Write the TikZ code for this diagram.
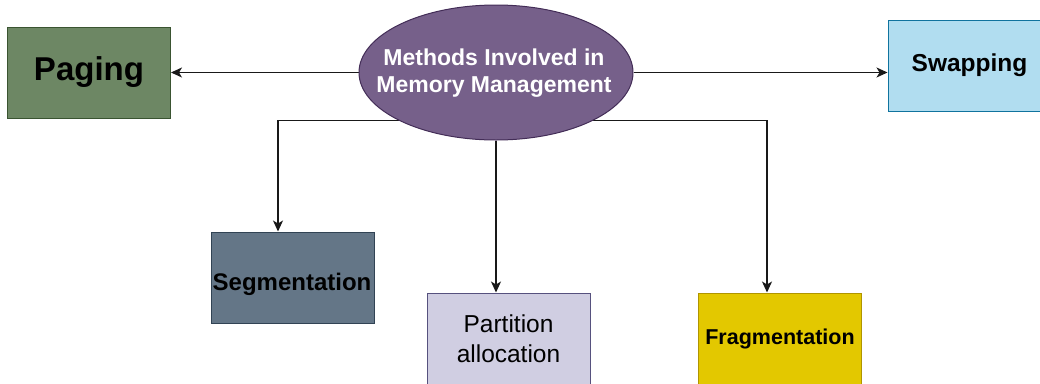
\documentclass[tikz,border=0pt]{standalone}
\usepackage{fontspec}
\setmainfont{Liberation Sans}
\usetikzlibrary{shapes.geometric,arrows.meta,backgrounds}
\definecolor{pagfill}{HTML}{6D8764}\definecolor{pagline}{HTML}{3A5431}
\definecolor{ellfill}{HTML}{76608A}\definecolor{ellline}{HTML}{432D57}
\definecolor{swpfill}{HTML}{B1DDF0}\definecolor{swpline}{HTML}{10739E}
\definecolor{segfill}{HTML}{647687}\definecolor{segline}{HTML}{314354}
\definecolor{parfill}{HTML}{D0CEE2}\definecolor{parline}{HTML}{56517E}
\definecolor{frafill}{HTML}{E3C800}\definecolor{fraline}{HTML}{B09500}
\tikzset{
  box/.style={rectangle, draw, line width=1pt, minimum width=163pt, minimum height=91pt, inner sep=0pt, align=center},
  conn/.style={line width=1.3pt, draw=black!90, -{Stealth[length=11pt,width=10pt,inset=3pt]}},
}
\begin{document}
\begin{tikzpicture}[x=1pt,y=-1pt]
\useasboundingbox (0,0) rectangle (1040,383);
\clip (0,0) rectangle (1040,383);
\node[box, fill=pagfill, draw=pagline, font=\fontsize{33}{38}\selectfont\bfseries] (pag) at (89,72.5) {Paging};
\node[box, fill=swpfill, draw=swpline, font=\fontsize{24.5}{29}\selectfont\bfseries] (swp) at (969.5,65.5) {Swapping};
\node[ellipse, draw=ellline, fill=ellfill, line width=1pt, minimum width=274pt, minimum height=135pt, inner sep=0pt] (ell) at (496,72.5) {};
\node[align=center, text=white, inner sep=0pt, font=\fontsize{23}{27}\selectfont\bfseries] (elltext) at (494,73) {Methods Involved in\\Memory Management};
\node[box, fill=segfill, draw=segline] (seg) at (292.5,277.5) {};
\node[inner sep=0pt, font=\fontsize{24}{29}\selectfont\bfseries] (segtext) at (292,284) {Segmentation};
\node[box, fill=parfill, draw=parline, font=\fontsize{24.5}{30}\selectfont] (par) at (508.5,338.5) {Partition\\allocation};
\node[box, fill=frafill, draw=fraline, font=\fontsize{21.5}{26}\selectfont\bfseries] (fra) at (780,338.5) {Fragmentation};
\begin{scope}[on background layer]
\draw[conn] (ell.west) -- (pag.east);
\draw[conn] (ell.east) -- (swp.west |- ell.east);
\draw[conn] (ell.south west) -| ([xshift=-14.5pt]seg.north);
\draw[conn] (ell.south) -- (ell.south |- par.north);
\draw[conn] (ell.south east) -| ([xshift=-13pt]fra.north);
\end{scope}
\end{tikzpicture}
\end{document}
